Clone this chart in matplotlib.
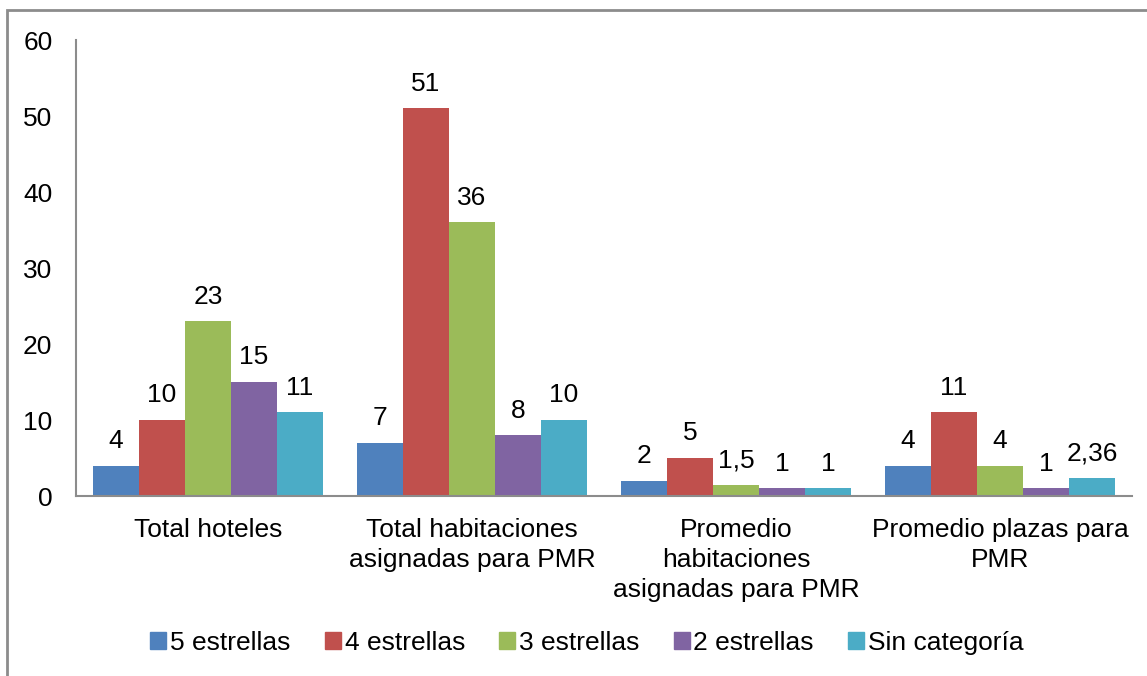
import matplotlib
matplotlib.use('Agg')
import matplotlib.pyplot as plt
import numpy as np
from matplotlib.patches import Patch, Rectangle

categories = ['Total hoteles', 'Total habitaciones\nasignadas para PMR',
              'Promedio\nhabitaciones\nasignadas para PMR', 'Promedio plazas para\nPMR']
series = ['5 estrellas', '4 estrellas', '3 estrellas', '2 estrellas', 'Sin categoría']
values = [
    [4, 7, 2, 4],
    [10, 51, 5, 11],
    [23, 36, 1.5, 4],
    [15, 8, 1, 1],
    [11, 10, 1, 2.36],
]
labels = [
    ['4', '7', '2', '4'],
    ['10', '51', '5', '11'],
    ['23', '36', '1,5', '4'],
    ['15', '8', '1', '1'],
    ['11', '10', '1', '2,36'],
]
colors = ['#4F81BD', '#C0504D', '#9BBB59', '#8064A2', '#4BACC6']

plt.rcParams['font.family'] = ['Liberation Sans', 'DejaVu Sans']
fs = 19

fig = plt.figure(figsize=(11.47, 6.76), dpi=100)
ax = fig.add_axes([76/1147, 1-496/676, (1132-76)/1147, (496-40)/676])

# outer chart frame (only left and top visible in the crop)
fig.patches.append(Rectangle((7/1147, -0.1), 1.2, 1 - 10/676 + 0.1,
                             transform=fig.transFigure, fill=False,
                             edgecolor='#8C8C8C', linewidth=2))

x = np.arange(len(categories))
w = 0.1742
for i, (s, vals, lab) in enumerate(zip(series, values, labels)):
    pos = x - 2*w + i*w
    bars = ax.bar(pos, vals, w, color=colors[i], label=s)
    for b, t in zip(bars, lab):
        ax.annotate(t, (b.get_x() + b.get_width()/2, b.get_height()),
                    xytext=(0, 9), textcoords='offset points',
                    ha='center', va='bottom', fontsize=fs)

ax.set_xlim(-0.5, len(categories) - 0.5)
ax.set_ylim(0, 60)
ax.set_yticks(range(0, 61, 10))
ax.set_xticks(x)
ax.set_xticklabels(categories, fontsize=fs, linespacing=1.3)
ax.tick_params(axis='both', length=0, labelsize=fs)
ax.tick_params(axis='y', pad=17)
ax.tick_params(axis='x', pad=16)
for sp in ['top', 'right']:
    ax.spines[sp].set_visible(False)
for sp in ['left', 'bottom']:
    ax.spines[sp].set_color('#8C8C8C')
    ax.spines[sp].set_linewidth(1.5)

handles = [Patch(color=c) for c in colors]
fig.legend(handles, series, loc='center', bbox_to_anchor=(587/1147, 1-643/676),
           ncol=5, frameon=False, fontsize=fs, handlelength=0.6, handleheight=0.6,
           handletextpad=0.15, columnspacing=1.3)

fig.savefig('out.png', dpi=100)
